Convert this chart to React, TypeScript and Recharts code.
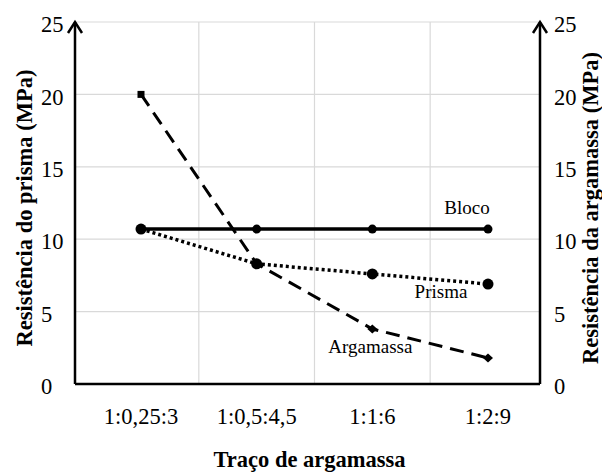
import React from 'react';
import { LineChart, Line, XAxis, YAxis, CartesianGrid } from 'recharts';

// Mortar mix ratios (cement:lime:sand) on the category axis
const categories = ['1:0,25:3', '1:0,5:4,5', '1:1:6', '1:2:9'];
// Compressive strength (MPa)
const bloco = [10.7, 10.7, 10.7, 10.7];
const prisma = [10.7, 8.3, 7.6, 6.9];
const argamassa = [20, 8.3, 3.8, 1.8];
const yTicks = [0, 5, 10, 15, 20, 25];

const seriesNames = { bloco: 'Bloco', prisma: 'Prisma', argamassa: 'Argamassa' };

const data = categories.map((c, i) => ({
  traco: c,
  bloco: bloco[i],
  prisma: prisma[i],
  argamassa: argamassa[i],
}));

const FONT = 'Liberation Serif, Times New Roman, DejaVu Serif, serif';
const W = 602;
const H = 472;
const PAD_L = 66;
const PAD_R = 52;

const textStyle = { fontFamily: FONT };

const Arrow = ({ x, y }: { x: number; y: number }) => (
  <polyline
    points={`${x - 7},${y + 11} ${x},${y} ${x + 7},${y + 11}`}
    fill="none"
    stroke="#000"
    strokeWidth={2.5}
  />
);

const LeftTitle = (props: any) => {
  const { x, y, width, height } = props.viewBox;
  const cx = x + 24;
  const cy = y + height / 2 + 5;
  return (
    <g>
      <Arrow x={x + width} y={y} />
      <text
        x={cx}
        y={cy}
        dy="0.35em"
        transform={`rotate(-90 ${cx} ${cy})`}
        textAnchor="middle"
        style={textStyle}
        fontWeight="bold"
        fontSize={22.5}
        fill="#000"
      >
        Resistência do prisma (MPa)
      </text>
    </g>
  );
};

const RightTitle = (props: any) => {
  const { x, y, height } = props.viewBox;
  const cx = x + 50;
  const cy = y + height / 2 + 5;
  return (
    <g>
      <Arrow x={x} y={y} />
      <text
        x={cx}
        y={cy}
        dy="0.35em"
        transform={`rotate(-90 ${cx} ${cy})`}
        textAnchor="middle"
        style={textStyle}
        fontWeight="bold"
        fontSize={22.5}
        fill="#000"
      >
        Resistência da argamassa (MPa)
      </text>
    </g>
  );
};

const BottomTitle = (props: any) => {
  const { x, y, width } = props.viewBox;
  return (
    <text
      x={x + width / 2 + 2}
      y={y + 83}
      textAnchor="middle"
      style={textStyle}
      fontWeight="bold"
      fontSize={22.5}
      fill="#000"
    >
      Traço de argamassa
    </text>
  );
};

const YTick = (props: any) => {
  const { x, y, payload } = props;
  return (
    <text x={x} y={y} dy="0.45em" textAnchor="start" style={textStyle} fontSize={22.5} fill="#000">
      {payload.value}
    </text>
  );
};

const XTick = (props: any) => {
  const { x, y, payload } = props;
  return (
    <text x={x} y={y} dy="0.71em" textAnchor="middle" style={textStyle} fontSize={22.5} fill="#000">
      {payload.value}
    </text>
  );
};

// Series name written next to one chosen point of the line
const seriesLabel = (name: string, at: number, dx: number, dy: number) => (props: any) => {
  const { x, y, index } = props;
  if (index !== at) return null;
  return (
    <text x={x + dx} y={y + dy} textAnchor="middle" style={textStyle} fontSize={19} fill="#000">
      {name}
    </text>
  );
};

const MortarDot = (props: any) => {
  const { cx, cy, index } = props;
  if (cx == null || cy == null) return null;
  if (index === 0) {
    return <rect key={`m-${index}`} x={cx - 3.5} y={cy - 3.5} width={7} height={7} fill="#000" />;
  }
  return (
    <polygon
      key={`m-${index}`}
      points={`${cx},${cy - 4.5} ${cx + 5},${cy} ${cx},${cy + 4.5} ${cx - 5},${cy}`}
      fill="#000"
    />
  );
};

const gridVerticals = ({ offset }: any) => {
  const left = offset.left + PAD_L;
  const step = (offset.width - PAD_L - PAD_R) / (categories.length - 1);
  const xs = [offset.left];
  for (let i = 0; i < categories.length - 1; i++) xs.push(left + step * (i + 0.5));
  xs.push(offset.left + offset.width);
  return xs;
};

export default function App() {
  return (
    <div style={{ position: 'absolute', left: 0, top: 0, width: W, height: H, background: '#fff' }}>
      <LineChart
        width={W}
        height={H}
        data={data}
        margin={{ top: 22, right: 0, bottom: 0, left: 0 }}
        style={textStyle}
      >
        <CartesianGrid
          yAxisId="left"
          stroke="#d9d9d9"
          strokeWidth={1.2}
          verticalCoordinatesGenerator={gridVerticals}
        />
        <XAxis
          dataKey="traco"
          height={88}
          padding={{ left: PAD_L, right: PAD_R }}
          axisLine={{ stroke: '#000', strokeWidth: 2.5 }}
          tickLine={false}
          tickSize={0}
          tickMargin={24}
          tick={XTick}
          label={BottomTitle}
        />
        <YAxis
          yAxisId="left"
          width={75}
          domain={[0, 25]}
          ticks={yTicks}
          axisLine={{ stroke: '#000', strokeWidth: 2.5 }}
          tickLine={false}
          tickSize={0}
          tickMargin={34}
          tick={YTick}
          label={LeftTitle}
        />
        <YAxis
          yAxisId="right"
          orientation="right"
          width={62}
          domain={[0, 25]}
          ticks={yTicks}
          axisLine={{ stroke: '#000', strokeWidth: 2.5 }}
          tickLine={false}
          tickSize={0}
          tickMargin={14}
          tick={YTick}
          label={RightTitle}
        />
        <Line
          yAxisId="right"
          dataKey="argamassa"
          stroke="#000"
          strokeWidth={3}
          strokeDasharray="14 8"
          dot={MortarDot}
          label={seriesLabel(seriesNames.argamassa, 2, -2, 24)}
          isAnimationActive={false}
        />
        <Line
          yAxisId="left"
          dataKey="prisma"
          stroke="#000"
          strokeWidth={3.5}
          strokeDasharray="3 3"
          dot={{ r: 5.5, fill: '#000', stroke: '#000', strokeWidth: 0 }}
          label={seriesLabel(seriesNames.prisma, 3, -47, 14)}
          isAnimationActive={false}
        />
        <Line
          yAxisId="left"
          dataKey="bloco"
          stroke="#000"
          strokeWidth={3.5}
          dot={{ r: 4.5, fill: '#000', stroke: '#000', strokeWidth: 0 }}
          label={seriesLabel(seriesNames.bloco, 3, -21, -15)}
          isAnimationActive={false}
        />
      </LineChart>
    </div>
  );
}
